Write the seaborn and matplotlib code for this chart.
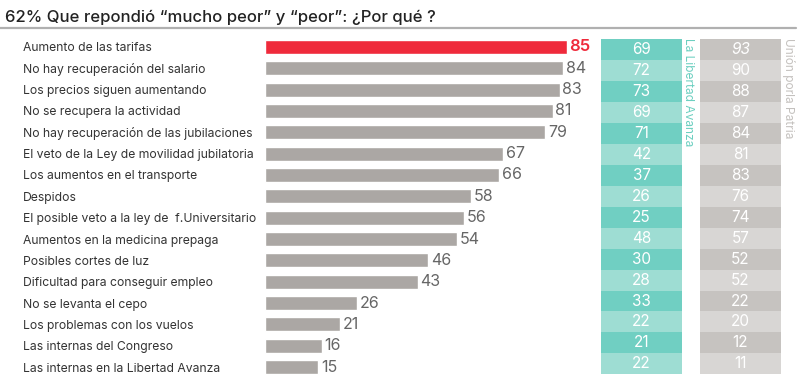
import matplotlib
matplotlib.use("Agg")
import matplotlib.pyplot as plt
import seaborn as sns
import pandas as pd

categories = [
    "Aumento de las tarifas",
    "No hay recuperación del salario",
    "Los precios siguen aumentando",
    "No se recupera la actividad",
    "No hay recuperación de las jubilaciones",
    "El veto de la Ley de movilidad jubilatoria",
    "Los aumentos en el transporte",
    "Despidos",
    "El posible veto a la ley de  f.Universitario",
    "Aumentos en la medicina prepaga",
    "Posibles cortes de luz",
    "Dificultad para conseguir empleo",
    "No se levanta el cepo",
    "Los problemas con los vuelos",
    "Las internas del Congreso",
    "Las internas en la Libertad Avanza",
]
total = [85, 84, 83, 81, 79, 67, 66, 58, 56, 54, 46, 43, 26, 21, 16, 15]
lla = [69, 72, 73, 69, 71, 42, 37, 26, 25, 48, 30, 28, 33, 22, 21, 22]
uxp = [93, 90, 88, 87, 84, 81, 83, 76, 74, 57, 52, 52, 22, 20, 12, 11]
title = "62% Que repondió “mucho peor” y “peor”: ¿Por qué ?"
lla_name = "La Libertad Avanza"
uxp_name = "Unión porla Patria"

sns.set_theme(style="white")
FONT = ["Inter", "DejaVu Sans"]
plt.rcParams["font.family"] = FONT

W, H = 800, 386
fig = plt.figure(figsize=(W / 100, H / 100), dpi=100)

def box(x0, y0, x1, y1):
    return [x0 / W, 1 - y1 / H, (x1 - x0) / W, (y1 - y0) / H]

RED = "#EF2A3B"
BARGRAY = "#ABA7A4"

df = pd.DataFrame({"cat": categories, "val": total})
colors = {c: (RED if i == 0 else BARGRAY) for i, c in enumerate(categories)}

ax = fig.add_axes(box(265, 36.3, 600, 377.7))
sns.barplot(data=df, x="val", y="cat", hue="cat", palette=colors, legend=False,
            orient="h", width=0.66, ax=ax, saturation=1)
ax.set_xlim(0, 335 / 3.55)
ax.set_ylim(len(categories) - 0.5, -0.5)
ax.set_xlabel("")
ax.set_ylabel("")
ax.set_xticks([])
for s in ax.spines.values():
    s.set_visible(False)
ax.tick_params(axis="y", length=0, pad=242 * 0.72, labelsize=8.75, labelcolor="#333333")
for lab in ax.get_yticklabels():
    lab.set_horizontalalignment("left")
for i, v in enumerate(total):
    ax.text(v + 0.8, i, str(v), va="center", ha="left",
            fontsize=12 if i == 0 else 11.5,
            color=RED if i == 0 else "#666666",
            fontweight="semibold" if i == 0 else "normal")

def column(x0, x1, vals, dark, light, italic_first=False):
    cax = fig.add_axes(box(x0, 39.3, x1, 374.3))
    cdf = pd.DataFrame({"cat": categories, "one": [1] * len(vals)})
    pal = {c: (dark if i % 2 == 0 else light) for i, c in enumerate(categories)}
    sns.barplot(data=cdf, x="one", y="cat", hue="cat", palette=pal, legend=False,
                orient="h", width=1.0, ax=cax, saturation=1, linewidth=0)
    cax.set_xlim(0, 1)
    cax.set_ylim(len(vals) - 0.5, -0.5)
    cax.axis("off")
    for i, v in enumerate(vals):
        cax.text(0.5, i, str(v), ha="center", va="center", color="white",
                 fontsize=11, style="italic" if (italic_first and i == 0) else "normal")
    return cax

column(601, 682, lla, "#70CFC2", "#9EDDD3")
column(700, 781, uxp, "#C6C3C0", "#D8D6D4", italic_first=True)

fig.text(688 / W, 1 - 38 / H, lla_name, rotation=-90, ha="center", va="top",
         color="#6CCFC0", fontsize=8.6)
fig.text(788 / W, 1 - 38 / H, uxp_name, rotation=-90, ha="center", va="top",
         color="#C4C1BE", fontsize=8.6)

fig.text(5 / W, 1 - 17 / H, title, ha="left", va="center", color="#222222",
         fontsize=12, fontweight="medium")
fig.add_artist(plt.Line2D([0, 796 / W], [1 - 27.5 / H, 1 - 27.5 / H],
                          color="#B0B0B0", lw=1.6, transform=fig.transFigure))

fig.savefig("out.png", dpi=100, facecolor="white")
